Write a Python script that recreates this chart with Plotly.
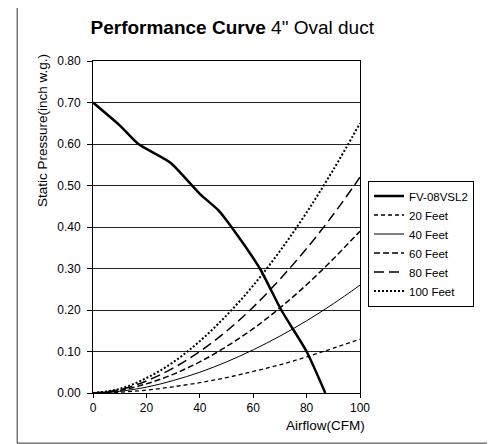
import plotly.graph_objs as go

airflow = [0, 10, 20, 30, 40, 50, 60, 70, 80, 90, 100]

fan_airflow = [0, 10, 17, 29, 40, 47, 53, 62.5, 70.5, 80, 87]
fan_pressure = [0.70, 0.645, 0.60, 0.555, 0.48, 0.44, 0.39, 0.30, 0.20, 0.10, 0.0]

duct_20 = [0, 0.002, 0.007, 0.015, 0.025, 0.037, 0.052, 0.068, 0.087, 0.108, 0.13]
duct_40 = [0, 0.004, 0.014, 0.030, 0.050, 0.075, 0.104, 0.137, 0.174, 0.215, 0.26]
duct_60 = [0, 0.006, 0.022, 0.045, 0.075, 0.112, 0.155, 0.205, 0.261, 0.323, 0.39]
duct_80 = [0, 0.008, 0.029, 0.060, 0.100, 0.149, 0.207, 0.274, 0.348, 0.430, 0.52]
duct_100 = [0, 0.010, 0.036, 0.074, 0.125, 0.187, 0.259, 0.342, 0.435, 0.538, 0.65]

y_ticks = [0.0, 0.1, 0.2, 0.3, 0.4, 0.5, 0.6, 0.7, 0.8]
x_ticks = [0, 20, 40, 60, 80, 100]

font = "Liberation Sans, Arial, sans-serif"

fig = go.Figure()
fig.add_trace(go.Scatter(x=fan_airflow, y=fan_pressure, name="FV-08VSL2", mode="lines",
                         line=dict(color="black", width=2.5, shape="spline", smoothing=0.6)))
fig.add_trace(go.Scatter(x=airflow, y=duct_20, name="20 Feet", mode="lines",
                         line=dict(color="black", width=1.3, dash="4px,3px", shape="spline")))
fig.add_trace(go.Scatter(x=airflow, y=duct_40, name="40 Feet", mode="lines",
                         line=dict(color="black", width=1, shape="spline")))
fig.add_trace(go.Scatter(x=airflow, y=duct_60, name="60 Feet", mode="lines",
                         line=dict(color="black", width=1.5, dash="6px,3px", shape="spline")))
fig.add_trace(go.Scatter(x=airflow, y=duct_80, name="80 Feet", mode="lines",
                         line=dict(color="black", width=1.5, dash="10px,5px", shape="spline")))
fig.add_trace(go.Scatter(x=airflow, y=duct_100, name="100 Feet", mode="lines",
                         line=dict(color="black", width=2, dash="2px,2px", shape="spline")))

# page body adds an 8px offset, so margins are trimmed by 8 on the left/top
fig.update_layout(
    width=495, height=444,
    margin=dict(l=85, r=143, t=53, b=59),
    paper_bgcolor="white", plot_bgcolor="white",
    font=dict(family=font, size=11, color="black"),
    title=dict(text="<b>Performance Curve</b> 4\" Oval duct", x=0.453, xanchor="center",
               y=0.957, yanchor="middle", font=dict(size=19, family=font, color="black")),
    xaxis=dict(range=[0, 100], tickvals=x_ticks, ticks="outside", ticklen=4, tickcolor="black",
               showgrid=False, zeroline=False, showline=True, linecolor="black", mirror=True,
               tickfont=dict(size=12, family=font)),
    yaxis=dict(range=[0, 0.8], tickvals=y_ticks, tickformat=".2f", ticks="outside", ticklen=5,
               tickcolor="black", showgrid=True, gridcolor="#222", gridwidth=1, zeroline=False,
               showline=True, linecolor="black", mirror=True, ticklabelstandoff=4,
               tickfont=dict(size=12, family=font)),
    legend=dict(x=1.03, y=0.64, xanchor="left", yanchor="top", bordercolor="black", borderwidth=1,
                bgcolor="white", font=dict(size=11.5, family=font), tracegroupgap=0,
                itemwidth=30),
    showlegend=True,
)

fig.add_annotation(text="Static Pressure(inch w.g.)", textangle=-90, xref="paper", yref="paper",
                   x=-0.19, y=0.79, xanchor="center", yanchor="middle", showarrow=False,
                   font=dict(size=13.5, family=font))
fig.add_annotation(text="Airflow(CFM)", xref="paper", yref="paper", x=1.025, y=-0.07,
                   xanchor="right", yanchor="top", showarrow=False, font=dict(size=13.5, family=font))

fig.add_shape(type="rect", xref="paper", yref="paper", x0=-0.284, x1=1.494, y0=-0.151, y1=1.172,
              line=dict(color="#333", width=1))

fig.write_html("out.html")
